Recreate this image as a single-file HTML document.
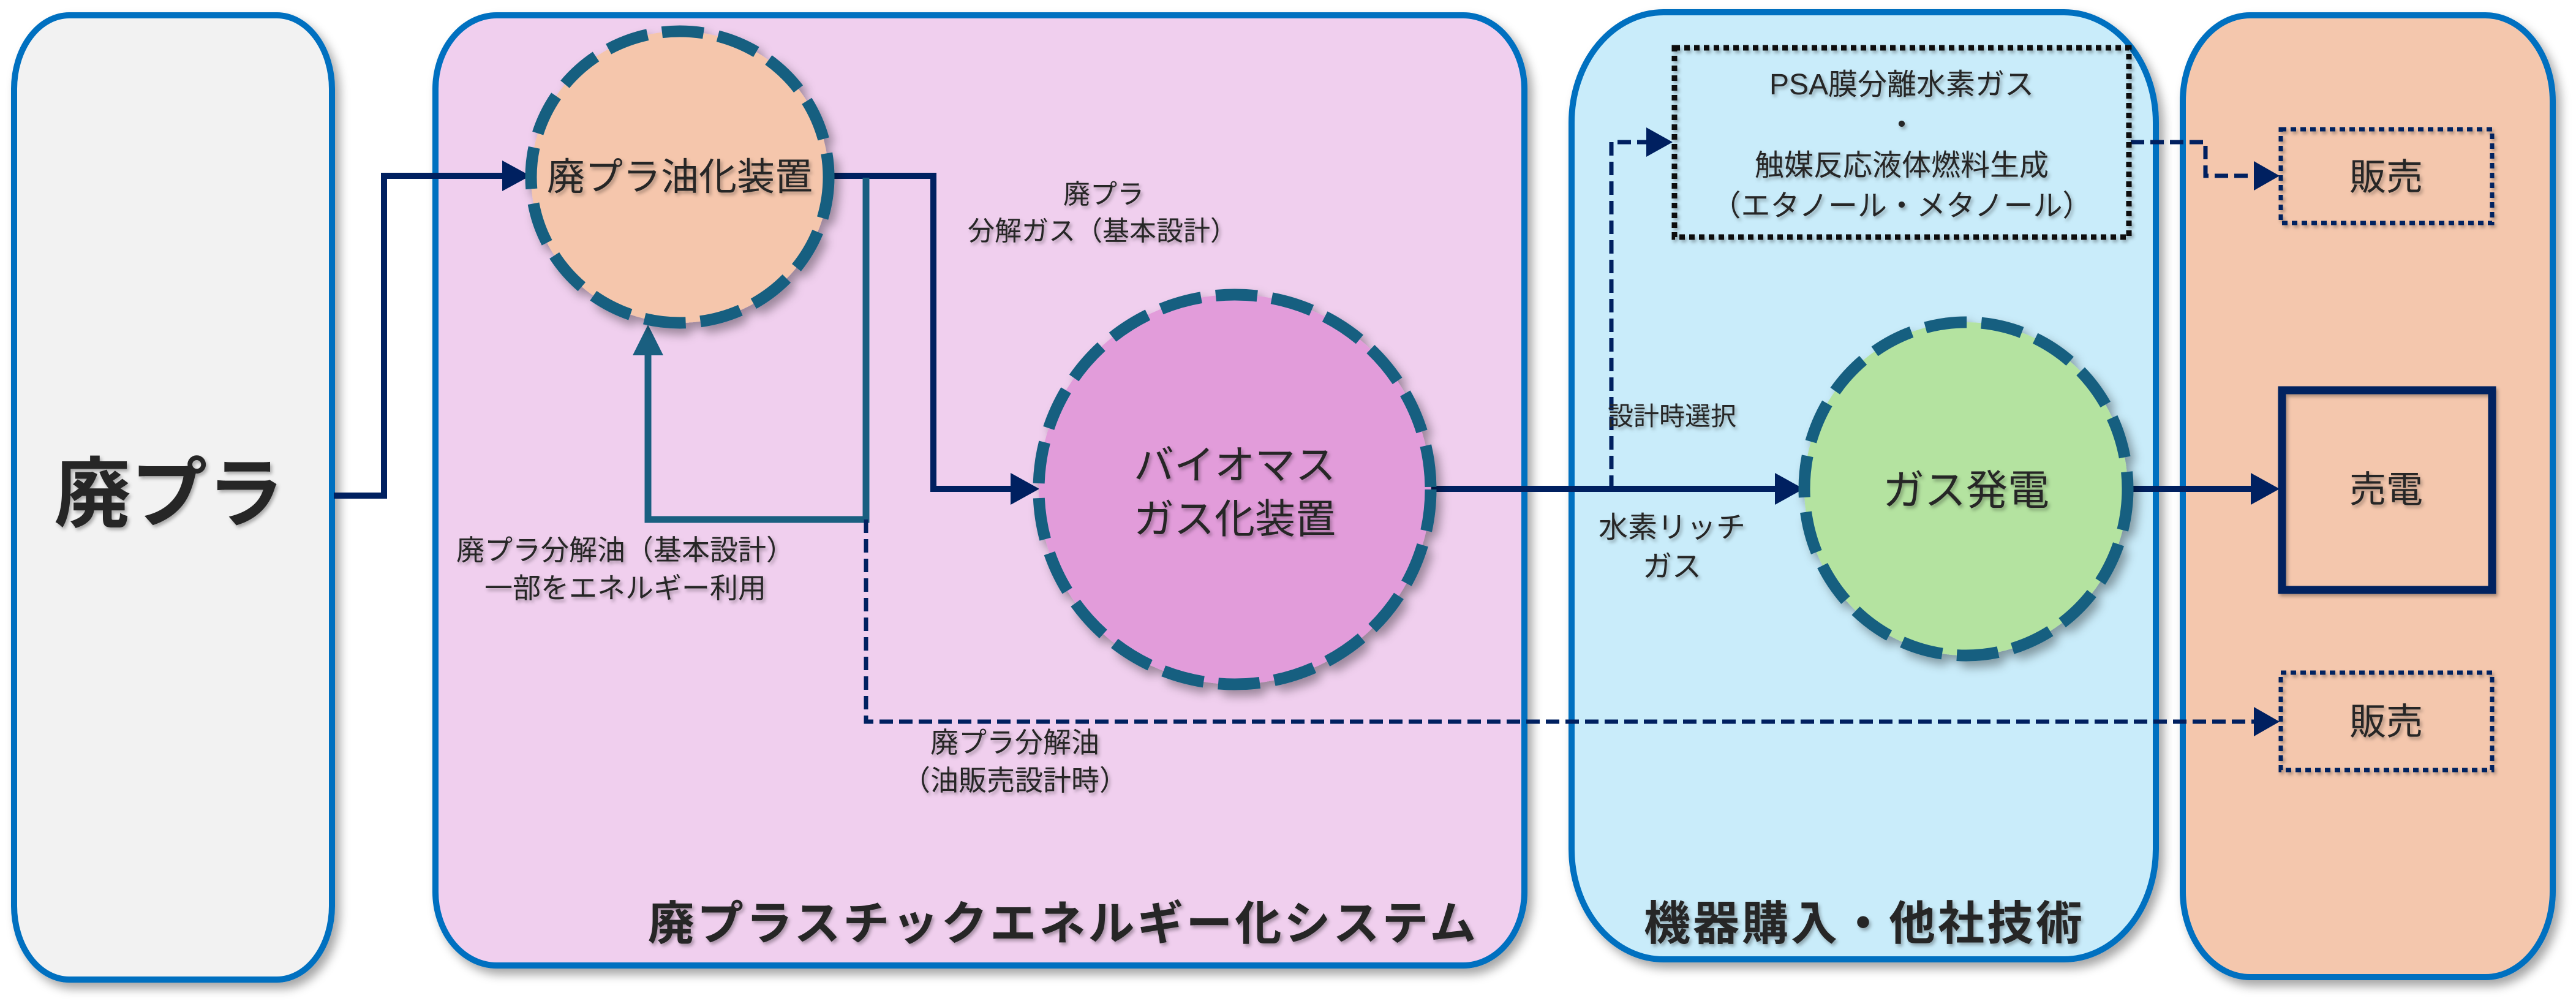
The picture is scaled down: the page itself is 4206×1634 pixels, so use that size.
<!DOCTYPE html>
<html><head><meta charset="utf-8"><style>
html,body{margin:0;padding:0;background:#fff;width:4206px;height:1634px;overflow:hidden}
svg{display:block}
text{font-family:"Liberation Sans","Noto Sans CJK JP",sans-serif;fill:#262626}
</style></head><body>
<svg width="4206" height="1634" viewBox="0 0 4206 1634" xmlns="http://www.w3.org/2000/svg">
<defs>
<filter id="sh" x="-10%" y="-10%" width="130%" height="130%"><feDropShadow dx="8" dy="10" stdDeviation="8" flood-color="#000" flood-opacity="0.35"/></filter>
<filter id="ts" x="-10%" y="-10%" width="130%" height="140%"><feDropShadow dx="3" dy="4" stdDeviation="3" flood-color="#000" flood-opacity="0.3"/></filter>
</defs>
<!-- panels -->
<rect x="23" y="25" width="519" height="1574" rx="90" ry="120" fill="#f2f2f2" stroke="#0070c0" stroke-width="10" filter="url(#sh)"/>
<rect x="711" y="25" width="1778" height="1551" rx="100" ry="120" fill="#f0cfee" stroke="#0070c0" stroke-width="10" filter="url(#sh)"/>
<rect x="2566" y="20" width="954" height="1546" rx="150" ry="180" fill="#c9ecfa" stroke="#0070c0" stroke-width="10" filter="url(#sh)"/>
<rect x="3564" y="25" width="604" height="1570" rx="110" ry="140" fill="#f4c7ad" stroke="#0070c0" stroke-width="10" filter="url(#sh)"/>

<!-- connectors -->
<g fill="none" stroke-linejoin="miter">
<polyline points="545,809 627,809 627,287 830,287" stroke="#002060" stroke-width="10"/>
<polyline points="1354,287 1524,287 1524,798 1660,798" stroke="#002060" stroke-width="10"/>
<polyline points="1414,290 1414,848 1058,848 1058,560" stroke="#1a5f80" stroke-width="11"/>
<polyline points="1414,848 1414,1178 3690,1178" stroke="#002060" stroke-width="7" stroke-dasharray="22,10"/>
<line x1="2337" y1="798" x2="2910" y2="798" stroke="#002060" stroke-width="10"/>
<line x1="3474" y1="798" x2="3685" y2="798" stroke="#002060" stroke-width="10"/>
<polyline points="2631,798 2631,232 2700,232" stroke="#002060" stroke-width="7" stroke-dasharray="22,10"/>
<polyline points="3479,232 3601,232 3601,287 3690,287" stroke="#002060" stroke-width="7" stroke-dasharray="22,10"/>
</g>
<!-- arrowheads -->
<g fill="#002060">
<polygon points="820,262 866,287 820,312"/>
<polygon points="1650,772 1697,798 1650,824"/>
<polygon points="2898,772 2945,798 2898,824"/>
<polygon points="3675,772 3722,798 3675,824"/>
<polygon points="2688,208 2731,232 2688,256"/>
<polygon points="3680,263 3722,287 3680,311"/>
<polygon points="3680,1154 3722,1178 3680,1202"/>
</g>
<polygon points="1033,580 1058,530 1083,580" fill="#1a5f80"/>

<!-- circles -->
<g stroke="#175f80" stroke-width="19" stroke-dasharray="68,24" filter="url(#sh)">
<ellipse cx="1110" cy="289" rx="243" ry="238" fill="#f5c6ac"/>
<ellipse cx="2016" cy="799" rx="320" ry="318" fill="#e29cda"/>
<ellipse cx="3210" cy="798" rx="264" ry="272" fill="#b4e3a0"/>
</g>

<!-- boxes -->
<rect x="2734" y="78" width="742" height="309" fill="none" stroke="#111" stroke-width="9" stroke-dasharray="9,7" filter="url(#ts)"/>
<rect x="3724" y="211" width="345" height="153" fill="none" stroke="#002060" stroke-width="7" stroke-dasharray="9,7" filter="url(#ts)"/>
<rect x="3724" y="1098" width="345" height="159" fill="none" stroke="#002060" stroke-width="7" stroke-dasharray="9,7" filter="url(#ts)"/>
<rect x="3726" y="637" width="343" height="326" fill="none" stroke="#002060" stroke-width="13" filter="url(#ts)"/>

<!-- texts -->
<g filter="url(#ts)" text-anchor="middle">
<text x="276" y="850" font-size="125" font-weight="bold">廃プラ</text>
<text x="1110" y="310" font-size="62">廃プラ油化装置</text>
<text x="2016" y="782" font-size="66">バイオマス</text>
<text x="2016" y="870" font-size="66">ガス化装置</text>
<text x="3210" y="824" font-size="68">ガス発電</text>
<text x="3896" y="310" font-size="60">販売</text>
<text x="3896" y="820" font-size="60">売電</text>
<text x="3896" y="1199" font-size="60">販売</text>
<text x="3105" y="154" font-size="48">PSA膜分離水素ガス</text>
<text x="3105" y="220" font-size="48">・</text>
<text x="3105" y="286" font-size="48">触媒反応液体燃料生成</text>
<text x="3105" y="352" font-size="48">（エタノール・メタノール）</text>
<text x="1802" y="332" font-size="44">廃プラ</text>
<text x="1800" y="392" font-size="44">分解ガス（基本設計）</text>
<text x="1021" y="914" font-size="46">廃プラ分解油（基本設計）</text>
<text x="1021" y="976" font-size="46">一部をエネルギー利用</text>
<text x="1657" y="1228" font-size="46">廃プラ分解油</text>
<text x="1657" y="1290" font-size="46">（油販売設計時）</text>
<text x="2730" y="694" font-size="42">設計時選択</text>
<text x="2730" y="877" font-size="48">水素リッチ</text>
<text x="2730" y="941" font-size="48">ガス</text>
<text x="1736" y="1534" font-size="76" font-weight="bold" letter-spacing="4">廃プラスチックエネルギー化システム</text>
<text x="3044" y="1534" font-size="76" font-weight="bold" letter-spacing="4">機器購入・他社技術</text>
</g>
</svg>
</body></html>
